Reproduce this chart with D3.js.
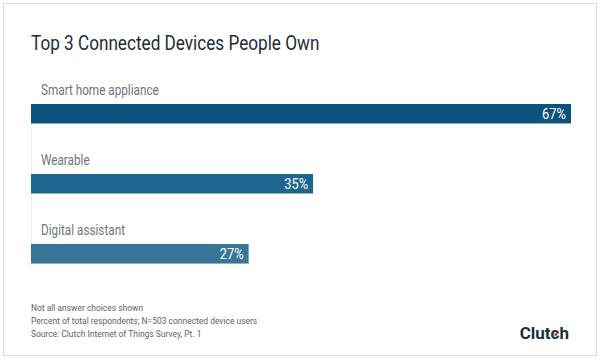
<!DOCTYPE html>
<html>
<head>
<meta charset="utf-8">
<script src="https://cdn.jsdelivr.net/npm/d3@7"></script>
<style>
	html, body { margin: 0; padding: 0; background: #fff; }
	svg { display: block; font-family: Roboto, "Open Sans", sans-serif; }
</style>
</head>
<body>
<div id="chart"></div>
<script>
var categories = ['Smart home appliance', 'Wearable', 'Digital assistant'];
var values = [67, 35, 27];
var barColors = ['#0b527e', '#1f668f', '#387598'];
var notes = [
	'Not all answer choices shown',
	'Percent of total respondents; N=503 connected device users',
	'Source: Clutch Internet of Things Survey, Pt. 1'
];

var width = 600, height = 359;
var svg = d3.select('#chart').append('svg')
	.attr('width', width)
	.attr('height', height);

// text in the picture is a bit narrow, squeeze it horizontally
function squeeze(x, y, sx) {
	return 'translate(' + x + ',' + y + ') scale(' + sx + ',1)';
}

// card border
svg.append('rect')
	.attr('x', 3.5).attr('y', 3.5)
	.attr('width', 593).attr('height', 352)
	.attr('fill', '#fff')
	.attr('stroke', '#dcdcdc');

svg.append('text')
	.attr('transform', squeeze(31, 50, 0.88))
	.attr('font-size', 19.5)
	.attr('fill', '#1e2b36')
	.text('Top 3 Connected Devices People Own');

var x = d3.scaleLinear().domain([0, 67]).range([31, 571]);
var y = d3.scaleBand().domain(categories).range([70, 280]).paddingInner(0).paddingOuter(0);

// faint baseline
svg.append('line')
	.attr('x1', 31.5).attr('x2', 31.5)
	.attr('y1', 104).attr('y2', 266)
	.attr('stroke', '#ececec');

var row = svg.selectAll('g.row')
	.data(categories)
	.enter().append('g')
	.attr('class', 'row')
	.attr('transform', function(d) { return 'translate(0,' + y(d) + ')'; });

row.append('text')
	.attr('transform', squeeze(41, 25, 0.84))
	.attr('font-size', 14)
	.attr('fill', '#6b767e')
	.text(function(d) { return d; });

row.append('rect')
	.attr('x', x(0))
	.attr('y', 34)
	.attr('width', function(d, i) { return x(values[i]) - x(0); })
	.attr('height', 20)
	.attr('fill', function(d, i) { return barColors[i]; });

row.append('rect')
	.attr('x', x(0))
	.attr('y', 53)
	.attr('width', function(d, i) { return x(values[i]) - x(0); })
	.attr('height', 1)
	.attr('fill', '#8fb0c6');

row.append('text')
	.attr('transform', function(d, i) { return squeeze(x(values[i]) - 5, 49, 0.92); })
	.attr('text-anchor', 'end')
	.attr('font-size', 14)
	.attr('fill', '#fff')
	.text(function(d, i) { return values[i] + '%'; });

svg.selectAll('text.note')
	.data(notes)
	.enter().append('text')
	.attr('class', 'note')
	.attr('transform', function(d, i) { return squeeze(31, 311 + i * 13, 0.89); })
	.attr('font-size', 9.5)
	.attr('fill', '#5c6369')
	.text(function(d) { return d; });

// logo
var logo = svg.append('text')
	.attr('x', 569).attr('y', 339)
	.attr('text-anchor', 'end')
	.attr('font-size', 17)
	.attr('font-weight', 'bold')
	.attr('fill', '#17313b')
	.text('Clutch');
// red dot sits inside the "c"
var cBox = logo.node().getExtentOfChar(4);
svg.append('circle')
	.attr('cx', cBox.x + cBox.width * 0.58)
	.attr('cy', 339 - 4.6)
	.attr('r', 1.6)
	.attr('fill', '#e8413b');
</script>
</body>
</html>
